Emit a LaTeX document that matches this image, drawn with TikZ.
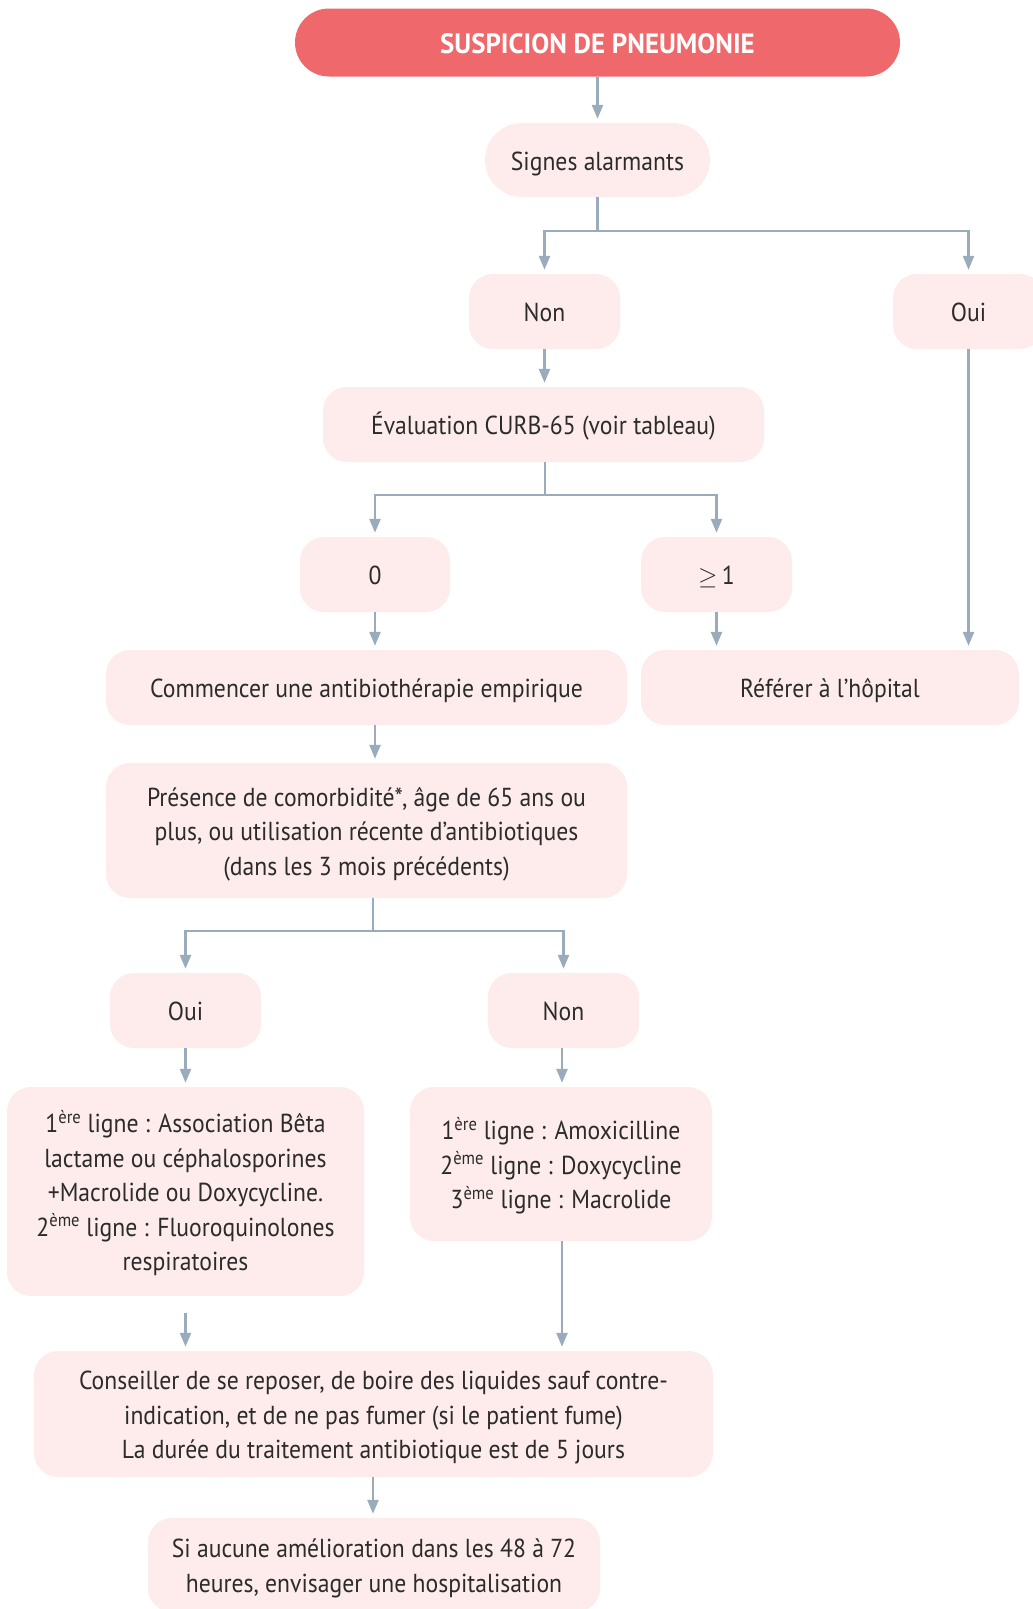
\documentclass[tikz,border=0pt]{standalone}
\usepackage{fontspec}
\setmainfont[FakeStretch=0.91]{PT Sans}
\newfontfamily\titlefont[FakeStretch=0.96]{PT Sans}
\usetikzlibrary{arrows.meta}
\definecolor{titlered}{HTML}{EF686B}
\definecolor{boxpink}{HTML}{FDECEB}
\definecolor{linkgray}{HTML}{9AACBB}
\definecolor{ink}{HTML}{2B2B2B}

\tikzset{
  wh/.style 2 args={minimum width=#1pt, minimum height=#2pt},
  bwh/.style 2 args={minimum width=#1pt, minimum height=#2pt, text width=#1pt},
  box/.style={fill=boxpink, rounded corners=24pt, text=ink, align=flush center,
    inner sep=0pt, font=\fontsize{26}{34.5}\selectfont,
    execute at begin node={\rule{0pt}{30pt}},
    execute at end node={\rule[-10pt]{0pt}{0pt}}},
  titlebox/.style={fill=titlered, rounded corners=34pt, text=white,
    inner sep=0pt, text height=30pt, text depth=9pt,
    font=\fontsize{28}{30}\titlefont\bfseries},
  plain/.style={draw=linkgray, line width=2.5pt},
  link/.style={plain, -{Triangle[length=14pt,width=11pt]}, shorten >=4pt},
}

\begin{document}
\begin{tikzpicture}[x=1pt, y=-1pt]
\useasboundingbox (0,0) rectangle (1033,1609);
\clip (0,0) rectangle (1033,1609);

% nodes
\node[titlebox, wh={605}{68}] (top) at (597.5,42.5) {SUSPICION DE PNEUMONIE};
\node[box, bwh={225}{74}, rounded corners=37pt] (sig) at (597.5,160) {Signes alarmants};
\node[box, bwh={151}{75}] (non1) at (544.5,311.5) {Non};
\node[box, bwh={151}{75}] (oui1) at (968.5,311.5) {Oui};
\node[box, bwh={441}{75}] (eval) at (543.5,424.5) {Évaluation CURB-65 (voir tableau)};
\node[box, bwh={150}{75}] (zero) at (375,574.5) {0};
\node[box, bwh={151}{75}] (ge) at (716.5,574.5) {$\geq$\,1};
\node[box, bwh={521}{75}] (comm) at (366.5,687.5) {Commencer une antibiothérapie empirique};
\node[box, bwh={378}{75}] (ref) at (830,687.5) {Référer à l’hôpital};
\node[box, bwh={521}{135}] (pres) at (366.5,830.5)
  {Présence de comorbidité*, âge de 65 ans ou\\plus, ou utilisation récente d’antibiotiques\\(dans les 3 mois précédents)};
\node[box, bwh={151}{75}] (oui2) at (185.5,1010.5) {Oui};
\node[box, bwh={151}{75}] (non2) at (563.5,1010.5) {Non};
\node[box, bwh={357}{209}] (left) at (185.5,1191.5)
  {1\textsuperscript{ère} ligne : Association Bêta\\lactame ou céphalosporines\\+Macrolide ou Doxycycline.\\2\textsuperscript{ème} ligne : Fluoroquinolones\\respiratoires};
\node[box, bwh={302}{154}] (right) at (561,1164)
  {1\textsuperscript{ère} ligne : Amoxicilline\\2\textsuperscript{ème} ligne : Doxycycline\\3\textsuperscript{ème} ligne : Macrolide};
\node[box, bwh={679}{126}] (cons) at (373.5,1414)
  {Conseiller de se reposer, de boire des liquides sauf contre-\\indication, et de ne pas fumer (si le patient fume)\\La durée du traitement antibiotique est de 5 jours};
\node[box, bwh={452}{94}] (si) at (374,1565)
  {Si aucune amélioration dans les 48 à 72\\heures, envisager une hospitalisation};

% junction points
\coordinate (j1) at (597.5,231);
\coordinate (j2) at (545,495);
\coordinate (j3) at (373,931);

% connectors
\draw[link] (top) -- (sig);
\draw[plain] (sig.south) -- (j1);
\draw[link] (j1) -| (non1.north);
\draw[link] (j1) -| (oui1.north);
\draw[link] (non1.south) -- (eval.north -| non1.south);
\draw[link] (oui1.south) -- (ref.north -| oui1.south);
\draw[plain] (eval.south -| j2) -- (j2);
\draw[link] (j2) -| (zero.north);
\draw[link] (j2) -| (ge.north);
\draw[link] (zero.south) -- (comm.north -| zero.south);
\draw[link] (ge.south) -- (ref.north -| ge.south);
\draw[link] (comm.south -| zero.south) -- (pres.north -| zero.south);
\draw[plain] (pres.south -| j3) -- (j3);
\draw[link] (j3) -| (oui2.north);
\draw[link] (j3) -| (non2.north);
\draw[link] (oui2.south) -- (left.north -| oui2.south);
\draw[link] ([xshift=-1.5pt]non2.south) -- ([xshift=-1.5pt]right.north -| non2.south);
\draw[link, shorten <=17pt] (left.south) -- (cons.north -| left.south);
\draw[link] ([xshift=-1.5pt]right.south -| non2.south) -- ([xshift=-1.5pt]cons.north -| non2.south);
\draw[link] (cons.south -| j3) -- (si.north -| j3);
\end{tikzpicture}
\end{document}
